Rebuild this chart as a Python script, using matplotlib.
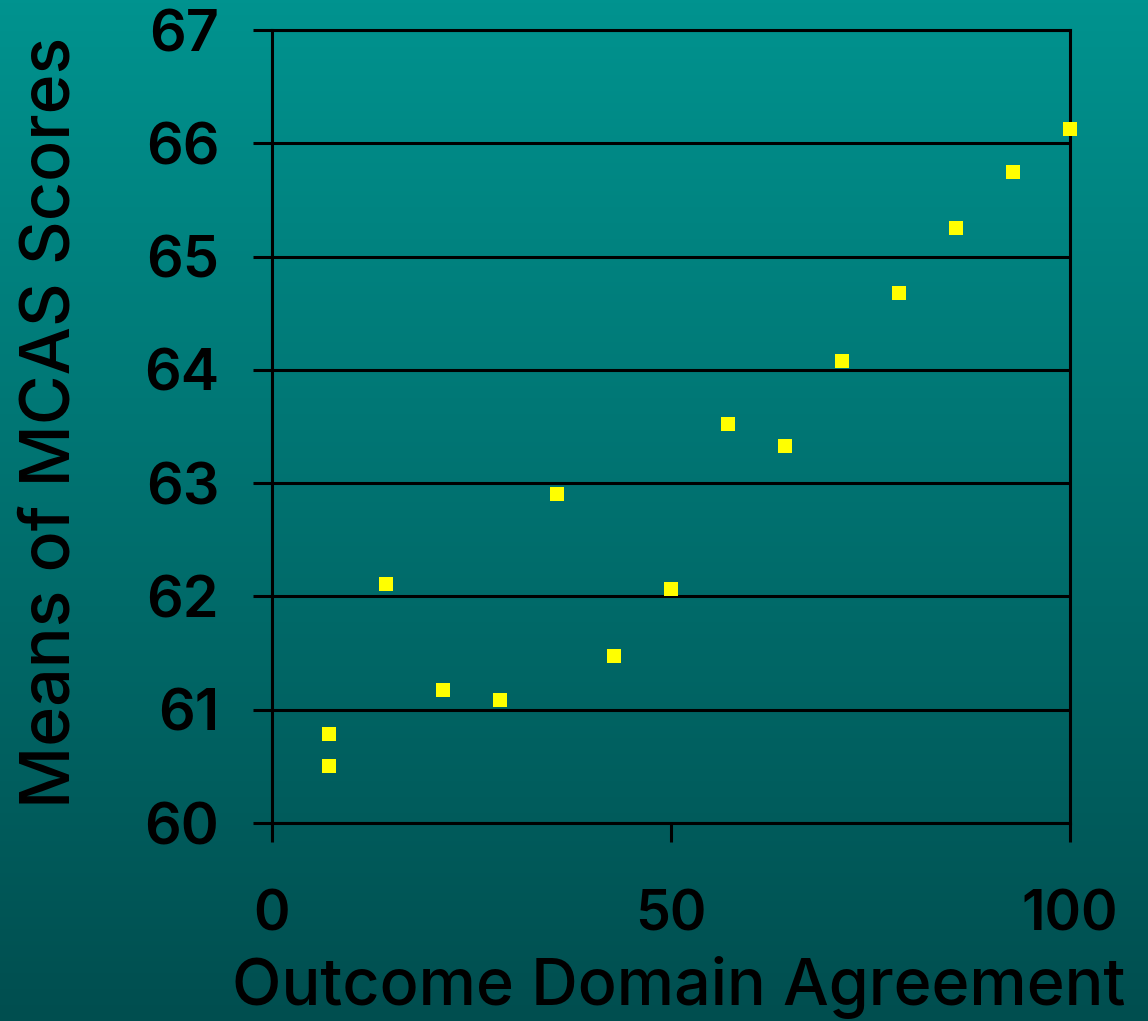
import matplotlib
matplotlib.use("Agg")
import matplotlib.pyplot as plt
import numpy as np
from matplotlib.colors import LinearSegmentedColormap

# agreement (%) vs mean MCAS score
agreement = [7.1, 7.1, 14.3, 21.4, 28.6, 35.7, 42.9, 50.0, 57.1, 64.3, 71.4, 78.6, 85.7, 92.9, 100.0]
mcas_mean = [60.79, 60.50, 62.11, 61.17, 61.09, 62.90, 61.47, 62.07, 63.52, 63.33, 64.08, 64.68, 65.25, 65.75, 66.13]
x_ticks = [0, 50, 100]
y_ticks = [60, 61, 62, 63, 64, 65, 66, 67]

FONT = ["Inter", "DejaVu Sans"]

fig = plt.figure(figsize=(11.48, 10.21), dpi=100)

# teal gradient background over the whole figure
bg = fig.add_axes([0, 0, 1, 1], zorder=-10)
cmap = LinearSegmentedColormap.from_list("teal", ["#00938f", "#004e4f"])
bg.imshow(np.linspace(0, 1, 256).reshape(-1, 1), aspect="auto", cmap=cmap, extent=[0, 1, 0, 1])
bg.axis("off")

ax = fig.add_axes([0.2369, 0.1939, 0.6952, 0.7767])
ax.patch.set_alpha(0)
ax.scatter(agreement, mcas_mean, marker="s", s=115, color="#ffff00", zorder=3,
           linewidths=0, clip_on=False)

ax.set_xlim(0, 100)
ax.set_ylim(60, 67)
ax.set_xticks(x_ticks)
ax.set_yticks(y_ticks)
ax.grid(axis="y", color="black", linewidth=2.2)
for s in ax.spines.values():
    s.set_linewidth(2.2)
    s.set_color("black")

ax.tick_params(axis="y", direction="out", length=14, width=2.2, pad=24, labelsize=41.5)
ax.tick_params(axis="x", direction="out", length=14, width=2.2, pad=34, labelsize=40)
for lab in ax.get_yticklabels() + ax.get_xticklabels():
    lab.set_family(FONT)
    lab.set_fontweight("semibold")

fig.text(0.5915, 0.0155, "Outcome Domain Agreement", ha="center", va="baseline",
         fontsize=46.5, family=FONT, fontweight="medium")
fig.text(0.0445, 0.5867, "Means of MCAS Scores", ha="center", va="center", rotation=90,
         fontsize=49, family=FONT, fontweight="medium")

fig.savefig("out.png", dpi=100)
